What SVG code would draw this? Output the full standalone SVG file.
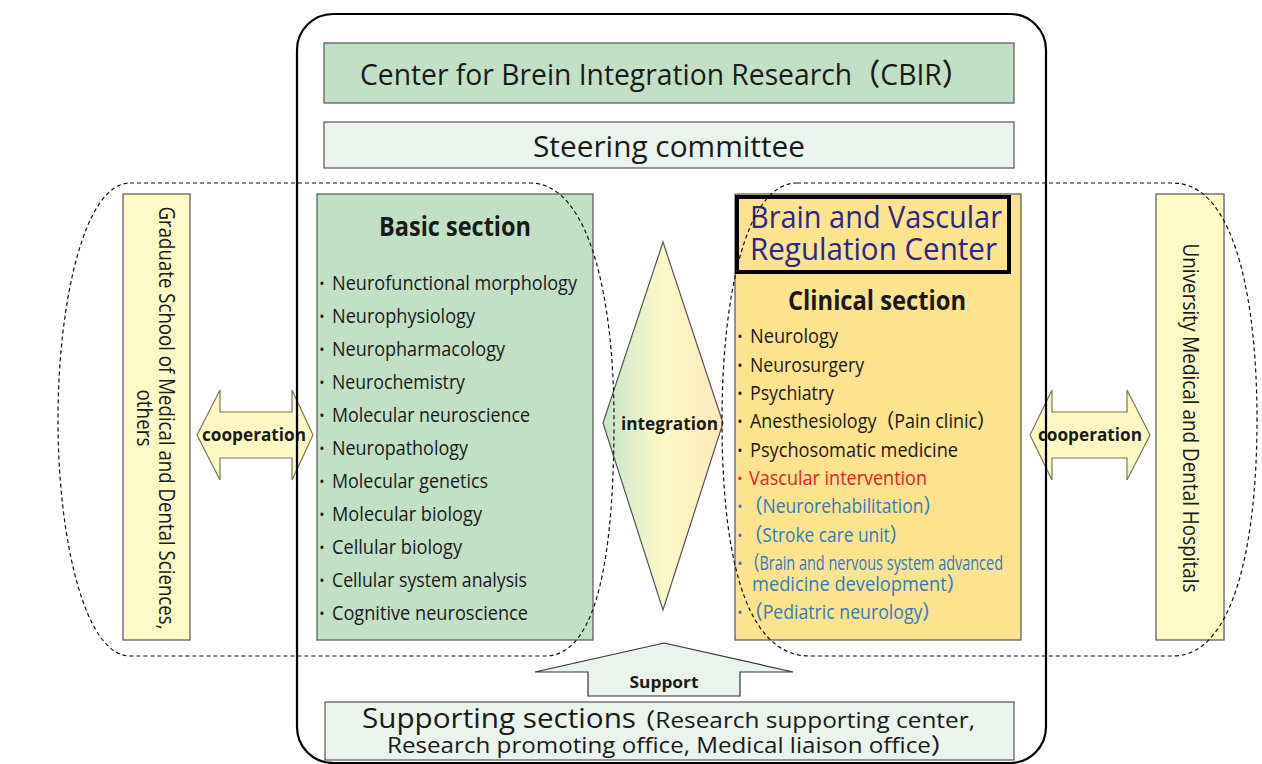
<svg xmlns="http://www.w3.org/2000/svg" width="1262" height="764" viewBox="0 0 1262 764">
<defs>
<style>
text{font-family:"Open Sans","Noto Sans CJK JP",sans-serif;fill:#1a1a1a;font-weight:500}
.box{stroke:#555;stroke-width:1.2}
.green{fill:#c2e0c6}
.pale{fill:#eaf4ec}
.yel{fill:#fefbc8}
.gold{fill:#fde38e}
.t30{font-size:30px}
.h26{font-size:26px;font-weight:bold}
.it{font-size:20px}
.bl{font-size:14px;text-anchor:middle}
.blue{fill:#2f7cc0}
.red{fill:#e8202a}
.dash{fill:none;stroke:#111;stroke-width:1.2;stroke-dasharray:4 3}
.coop{fill:#fdf8c4;stroke:#7a7a50;stroke-width:1.2}
.lbl{font-size:17px;font-weight:bold}
</style>
<linearGradient id="ig" x1="603" y1="0" x2="723" y2="0" gradientUnits="userSpaceOnUse">
<stop offset="0" stop-color="#c5e5c8"/>
<stop offset="0.5" stop-color="#fdf9c8"/>
<stop offset="1" stop-color="#fde8ba"/>
</linearGradient>
</defs>
<rect width="1262" height="764" fill="#fff"/>

<g id="cbir">
<rect class="box green" x="324" y="43" width="690" height="60"/>
<text class="t30" x="360" y="85" textLength="610" lengthAdjust="spacingAndGlyphs">Center for Brein Integration Research（CBIR）</text>
</g>

<g id="steering">
<rect class="box pale" x="324" y="122" width="690" height="46"/>
<text class="t30" x="533" y="157" textLength="272" lengthAdjust="spacingAndGlyphs">Steering committee</text>
</g>

<g id="basic">
<rect class="box green" x="317" y="194" width="276" height="446"/>
<text class="h26" x="379" y="236" textLength="152" lengthAdjust="spacingAndGlyphs">Basic section</text>
<g class="it">
<text class="bl" x="322" y="289">•</text><text x="332" y="290" textLength="245" lengthAdjust="spacingAndGlyphs">Neurofunctional morphology</text>
<text class="bl" x="322" y="322">•</text><text x="332" y="323" textLength="143" lengthAdjust="spacingAndGlyphs">Neurophysiology</text>
<text class="bl" x="322" y="355">•</text><text x="332" y="356" textLength="173" lengthAdjust="spacingAndGlyphs">Neuropharmacology</text>
<text class="bl" x="322" y="388">•</text><text x="332" y="389" textLength="133" lengthAdjust="spacingAndGlyphs">Neurochemistry</text>
<text class="bl" x="322" y="421">•</text><text x="332" y="422" textLength="198" lengthAdjust="spacingAndGlyphs">Molecular neuroscience</text>
<text class="bl" x="322" y="454">•</text><text x="332" y="455" textLength="136" lengthAdjust="spacingAndGlyphs">Neuropathology</text>
<text class="bl" x="322" y="487">•</text><text x="332" y="488" textLength="156" lengthAdjust="spacingAndGlyphs">Molecular genetics</text>
<text class="bl" x="322" y="520">•</text><text x="332" y="521" textLength="150" lengthAdjust="spacingAndGlyphs">Molecular biology</text>
<text class="bl" x="322" y="553">•</text><text x="332" y="554" textLength="130" lengthAdjust="spacingAndGlyphs">Cellular biology</text>
<text class="bl" x="322" y="586">•</text><text x="332" y="587" textLength="195" lengthAdjust="spacingAndGlyphs">Cellular system analysis</text>
<text class="bl" x="322" y="619">•</text><text x="332" y="620" textLength="196" lengthAdjust="spacingAndGlyphs">Cognitive neuroscience</text>
</g>
</g>

<g id="clinical">
<rect class="box gold" x="735" y="194" width="286" height="446"/>
<rect x="737" y="197" width="272" height="75" fill="none" stroke="#000" stroke-width="4"/>
<text style="font-size:31px;fill:#28288c"><tspan x="750" y="228" textLength="252" lengthAdjust="spacingAndGlyphs">Brain and Vascular</tspan><tspan x="750" y="260" textLength="247" lengthAdjust="spacingAndGlyphs">Regulation Center</tspan></text>
<text class="h26" x="788" y="310" textLength="178" lengthAdjust="spacingAndGlyphs">Clinical section</text>
<g class="it">
<text class="bl" x="740" y="342">•</text><text x="750" y="343" textLength="88" lengthAdjust="spacingAndGlyphs">Neurology</text>
<text class="bl" x="740" y="371">•</text><text x="750" y="372" textLength="114" lengthAdjust="spacingAndGlyphs">Neurosurgery</text>
<text class="bl" x="740" y="399">•</text><text x="750" y="400" textLength="84" lengthAdjust="spacingAndGlyphs">Psychiatry</text>
<text class="bl" x="740" y="427">•</text><text x="750" y="428" textLength="245" lengthAdjust="spacingAndGlyphs">Anesthesiology（Pain clinic）</text>
<text class="bl" x="740" y="456">•</text><text x="750" y="457" textLength="208" lengthAdjust="spacingAndGlyphs">Psychosomatic medicine</text>
<text class="bl red" x="740" y="484">•</text><text class="red" x="749" y="485" textLength="178" lengthAdjust="spacingAndGlyphs">Vascular intervention</text>
<text class="bl blue" x="740" y="512">•</text><text class="blue" x="745" y="513" textLength="196" lengthAdjust="spacingAndGlyphs">（Neurorehabilitation）</text>
<text class="bl blue" x="740" y="541">•</text><text class="blue" x="745" y="542" textLength="162" lengthAdjust="spacingAndGlyphs">（Stroke care unit）</text>
<text class="bl blue" x="740" y="569">•</text><text class="blue"><tspan x="745" y="570" textLength="258" lengthAdjust="spacingAndGlyphs">（Brain and nervous system advanced</tspan><tspan x="752" y="591" textLength="213" lengthAdjust="spacingAndGlyphs">medicine development）</tspan></text>
<text class="bl blue" x="740" y="618">•</text><text class="blue" x="745" y="619" textLength="195" lengthAdjust="spacingAndGlyphs">（Pediatric neurology）</text>
</g>
</g>

<g id="graduate">
<rect class="box yel" x="123" y="194" width="67" height="446"/>
<text transform="translate(159,418) rotate(90)" style="font-size:21px;text-anchor:middle" textLength="423" lengthAdjust="spacingAndGlyphs">Graduate School of Medical and Dental Sciences,</text>
<text transform="translate(137,418) rotate(90)" style="font-size:21px;text-anchor:middle" textLength="57" lengthAdjust="spacingAndGlyphs">others</text>
</g>

<g id="hospitals">
<rect class="box yel" x="1156" y="194" width="68" height="446"/>
<text transform="translate(1183,418) rotate(90)" style="font-size:21px;text-anchor:middle" textLength="349" lengthAdjust="spacingAndGlyphs">University Medical and Dental Hospitals</text>
</g>

<g id="integration">
<polygon points="663,242 723,423 663,610 603,423" fill="url(#ig)" stroke="#555" stroke-width="1.2"/>
<text class="lbl" x="621" y="430" textLength="97" lengthAdjust="spacingAndGlyphs">integration</text>
</g>

<g id="supporting">
<rect class="box pale" x="325" y="702" width="689" height="58"/>
<text style="font-size:22px"><tspan x="362" y="728" style="font-size:28px" textLength="274" lengthAdjust="spacingAndGlyphs">Supporting sections</tspan><tspan x="631" y="728" textLength="344" lengthAdjust="spacingAndGlyphs">（Research supporting center,</tspan><tspan x="387" y="753" textLength="568" lengthAdjust="spacingAndGlyphs">Research promoting office, Medical liaison office）</tspan></text>
</g>

<g id="connectors">
<polygon class="coop" points="197,435 220,390 220,412 292,412 292,390 313,435 292,480 292,458 220,458 220,480"/>
<text class="lbl" x="202" y="441" textLength="104" lengthAdjust="spacingAndGlyphs">cooperation</text>
<polygon class="coop" points="1030,435 1052,390 1052,412 1127,412 1127,390 1150,435 1127,480 1127,458 1052,458 1052,480"/>
<text class="lbl" x="1038" y="441" textLength="104" lengthAdjust="spacingAndGlyphs">cooperation</text>
<polygon points="664,643 793,672 740,672 740,696 588,696 588,672 535,672" fill="#eaf4ec" stroke="#333" stroke-width="1.2"/>
<text x="664" y="688" style="font-size:16px;font-weight:bold;text-anchor:middle" textLength="69" lengthAdjust="spacingAndGlyphs">Support</text>
</g>

<g id="frame">
<rect x="297" y="14" width="749" height="749" rx="36" ry="36" fill="none" stroke="#000" stroke-width="2.2"/>
</g>

<g id="groups">
<path class="dash" d="M130,183 L530,183 C590,183 614,300 614,420 C614,545 600,656 545,656 L130,656 C85,656 58,540 58,420 C58,300 85,183 130,183 Z"/>
<path class="dash" d="M797,183 L1173,183 C1235,183 1257,300 1257,420 C1257,540 1235,656 1173,656 L810,656 C740,656 722,540 722,420 C722,300 745,183 797,183 Z"/>
</g>
</svg>
